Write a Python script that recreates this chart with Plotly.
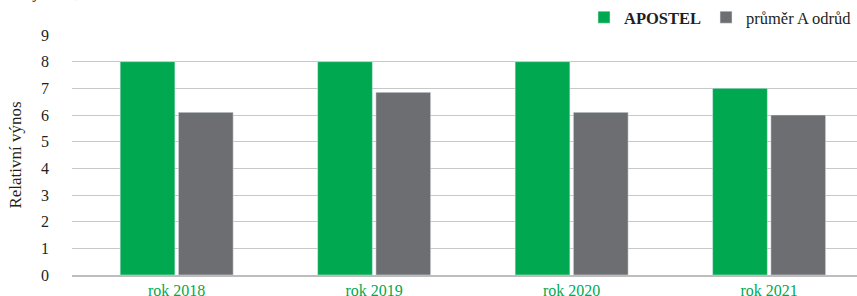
import plotly.graph_objects as go

categories = ["rok 2018", "rok 2019", "rok 2020", "rok 2021"]
apostel = [8, 8, 8, 7]
prumer = [6.1, 6.85, 6.1, 6.0]
y_ticks = list(range(0, 10))

GREEN = "#00a84f"
GRAY = "#6d6e71"
FONT = "Liberation Serif"

fig = go.Figure()
fig.add_trace(go.Bar(x=categories, y=apostel, name="<b>APOSTEL</b>", marker_color=GREEN))
fig.add_trace(go.Bar(x=categories, y=prumer, name="průměr A odrůd", marker_color=GRAY))

fig.update_layout(
    width=857, height=296,
    margin=dict(l=72, r=0, t=35, b=21, autoexpand=False),
    paper_bgcolor="white", plot_bgcolor="white",
    barmode="group", bargap=0.41, bargroupgap=0.06,
    font=dict(family=FONT, size=16, color="#231f20"),
    showlegend=True,
    legend=dict(orientation="h", x=1.0, xanchor="right", y=1.0, yanchor="bottom",
                font=dict(family=FONT, size=16.5, color="#231f20"),
                itemwidth=30, traceorder="normal", bgcolor="rgba(0,0,0,0)"),
    xaxis=dict(range=[-0.53, 3.445], showgrid=False, showline=True,
               linecolor="#bdbdbd", linewidth=2, ticks="",
               tickfont=dict(family=FONT, size=16, color=GREEN), fixedrange=True),
    yaxis=dict(range=[0, 9], tickvals=y_ticks, showgrid=True, gridcolor="#c8c8c8",
               gridwidth=1, zeroline=False, ticks="", ticklabelstandoff=22,
               tickfont=dict(family=FONT, size=16, color="#231f20"),
               title=dict(text="Relativní výnos", font=dict(family=FONT, size=17, color="#231f20"),
                          standoff=15)),
    annotations=[dict(text="Zdroj: BSL, Německo 2018-2020", xref="paper", yref="paper",
                      x=-0.092, y=1.0, yshift=31, xanchor="left", yanchor="bottom",
                      showarrow=False, font=dict(family=FONT, size=16, color="#231f20"))],
)

fig.write_html("out.html", config={"displayModeBar": False},
               post_script="document.body.style.margin='0';document.body.style.overflow='hidden';")
